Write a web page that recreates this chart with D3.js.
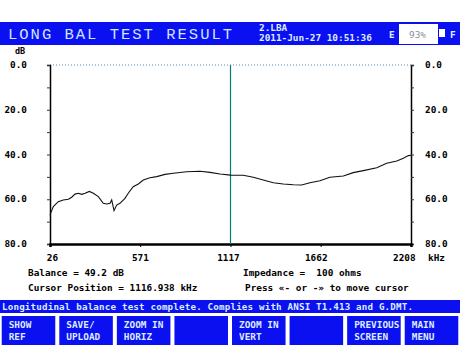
<!DOCTYPE html>
<html>
<head>
<meta charset="utf-8">
<script src="https://cdn.jsdelivr.net/npm/d3@7"></script>
<style>
  body { margin: 0; background: #fff; }
  svg text { font-family: "DejaVu Sans Mono", monospace; white-space: pre; }
</style>
</head>
<body>
<div id="chart"></div>
<script>
// frequency (kHz) and longitudinal balance (dB)
var freqs = [26, 46, 76, 106, 137, 157, 177, 197, 218, 238, 264, 288, 318, 348, 369, 389, 399, 413, 429, 449,
  479, 499, 529, 560, 590, 630, 671, 721, 771, 852, 933, 993, 1054, 1117, 1194, 1255, 1315, 1376, 1436, 1497,
  1547, 1597, 1658, 1718, 1799, 1859, 1920, 2001, 2061, 2122, 2162, 2192, 2208];
var balance = [67.0, 63.3, 61.1, 60.3, 60.0, 59.1, 57.7, 57.3, 57.8, 57.3, 56.5, 57.3, 58.8, 61.8, 62.1, 61.8, 60.3, 65.1, 62.6, 61.8,
  59.6, 57.3, 54.4, 53.2, 51.4, 50.4, 49.9, 48.9, 48.4, 47.7, 47.5, 48.0, 48.7, 49.2, 49.3, 50.2, 51.4, 52.6, 53.2, 53.5,
  53.6, 52.6, 51.7, 50.2, 49.6, 48.1, 47.2, 45.9, 43.9, 42.9, 41.7, 40.5, 40.3];

var xTicks = [26, 571, 1117, 1662, 2208];
var yTicks = [0, 10, 20, 30, 40, 50, 60, 70, 80];
var yLabels = [0, 20, 40, 60, 80];
var cursorFreq = 1117;

var buttons = [["SHOW", "REF"], ["SAVE/", "UPLOAD"], ["ZOOM IN", "HORIZ"], ["", ""],
  ["ZOOM IN", "VERT"], ["", ""], ["PREVIOUS", "SCREEN"], ["MAIN", "MENU"]];

var W = 460, H = 345;
var plot = { left: 50, right: 411, top: 65, bottom: 244 };
var blue = "#0a10f0";
var light = "#dcecff";
var fs = "9.4px";

var svg = d3.select("#chart").append("svg")
    .attr("width", W)
    .attr("height", H);

var x = d3.scaleLinear().domain([26, 2208]).range([plot.left, plot.right]);
var y = d3.scaleLinear().domain([0, 80]).range([plot.top, plot.bottom]);

// header bar
svg.append("rect").attr("x", 0).attr("y", 22).attr("width", W).attr("height", 23).attr("fill", blue);
svg.append("text").attr("x", 8).attr("y", 39)
    .attr("fill", "#cfe6ff")
    .style("font-family", "Liberation Mono")
    .style("font-size", "15.5px")
    .style("letter-spacing", "2px")
    .text("LONG BAL TEST RESULT");
svg.append("text").attr("x", 259).attr("y", 31).attr("fill", light)
    .style("font-size", fs).style("font-weight", "bold")
    .text("2.LBA");
svg.append("text").attr("x", 259).attr("y", 41).attr("fill", light)
    .style("font-size", fs).style("font-weight", "bold")
    .text("2011-Jun-27 10:51:36");
svg.append("text").attr("x", 389).attr("y", 38).attr("fill", light)
    .style("font-size", fs).style("font-weight", "bold").text("E");
svg.append("rect").attr("x", 399).attr("y", 24).attr("width", 39).attr("height", 20).attr("fill", "#fff");
svg.append("rect").attr("x", 439).attr("y", 29).attr("width", 6).attr("height", 8).attr("fill", "#fff");
svg.append("text").attr("x", 409).attr("y", 38).attr("fill", "#8890a0")
    .style("font-size", fs).text("93%");
svg.append("text").attr("x", 450).attr("y", 38).attr("fill", light)
    .style("font-size", fs).style("font-weight", "bold").text("F");

// plot frame
var g = svg.append("g");
g.append("line").attr("x1", plot.left).attr("x2", plot.right).attr("y1", plot.top).attr("y2", plot.top)
    .attr("stroke", "#5a8ab0").attr("stroke-dasharray", "1,2");

var yLeft = g.append("g").attr("transform", "translate(" + plot.left + ",0)")
    .call(d3.axisLeft(y).tickValues(yTicks).tickSize(3).tickFormat(""));
var yRight = g.append("g").attr("transform", "translate(" + plot.right + ",0)")
    .call(d3.axisRight(y).tickValues(yTicks).tickSize(3).tickFormat(""));
[yLeft, yRight].forEach(function (a) {
    a.select(".domain").attr("stroke", "#000").attr("stroke-width", 1.5);
    a.selectAll(".tick line").attr("stroke", "#333");
});

g.selectAll("text.yl").data(yLabels).join("text")
    .attr("class", "yl")
    .attr("x", 27).attr("y", d => y(d) + 3)
    .attr("text-anchor", "end")
    .style("font-size", fs).style("font-weight", "bold")
    .text(d => d.toFixed(1));
g.selectAll("text.yr").data(yLabels).join("text")
    .attr("class", "yr")
    .attr("x", 425).attr("y", d => y(d) + 3)
    .style("font-size", fs).style("font-weight", "bold")
    .text(d => d.toFixed(1));
svg.append("text").attr("x", 15).attr("y", 54)
    .style("font-size", "8.5px").style("font-weight", "bold").text("dB");

var xAxis = g.append("g").attr("transform", "translate(0," + plot.bottom + ")")
    .call(d3.axisBottom(x).tickValues(xTicks).tickSize(3).tickFormat(d => d));
xAxis.select(".domain").attr("stroke", "#000").attr("stroke-width", 2.5);
xAxis.selectAll(".tick line").attr("stroke", "#000");
xAxis.selectAll(".tick text")
    .attr("y", 10)
    .attr("dx", (d, i) => 2 - i * 2.3)
    .style("font-family", "DejaVu Sans Mono")
    .style("font-size", fs).style("font-weight", "bold").attr("fill", "#000");
svg.append("text").attr("x", 428).attr("y", 261)
    .style("font-size", fs).style("font-weight", "bold").text("kHz");

// cursor
g.append("line").attr("x1", x(cursorFreq)).attr("x2", x(cursorFreq))
    .attr("y1", plot.top).attr("y2", plot.bottom)
    .attr("stroke", "#007c7c").attr("stroke-width", 1.2);

// trace
var pts = freqs.map((f, i) => [f, balance[i]]);
g.append("path").datum(pts)
    .attr("fill", "none").attr("stroke", "#111").attr("stroke-width", 1.1)
    .attr("d", d3.line().x(d => x(d[0])).y(d => y(d[1])));

// readouts
var info = [
    { x: 28, y: 276, t: "Balance = 49.2 dB" },
    { x: 243, y: 276, t: "Impedance =  100 ohms" },
    { x: 28, y: 291, t: "Cursor Position = 1116.938 kHz" },
    { x: 245, y: 291, t: "Press \u00ab- or -\u00bb to move cursor" }
];
svg.selectAll("text.info").data(info).join("text")
    .attr("class", "info")
    .attr("x", d => d.x).attr("y", d => d.y)
    .style("font-size", fs).style("font-weight", "bold")
    .text(d => d.t);

// status bar
svg.append("rect").attr("x", 0).attr("y", 300).attr("width", W).attr("height", 13).attr("fill", blue);
svg.append("text").attr("x", 2).attr("y", 309.5).attr("fill", light)
    .attr("textLength", 411).attr("lengthAdjust", "spacing")
    .style("font-size", "9.2px").style("font-weight", "bold")
    .text("Longitudinal balance test complete. Complies with ANSI T1.413 and G.DMT.");

// soft keys
var bx = d3.scaleBand().domain(d3.range(buttons.length)).range([0, W]).paddingInner(0.07).paddingOuter(0.03);
var keys = svg.selectAll("g.key").data(buttons).join("g")
    .attr("class", "key")
    .attr("transform", (d, i) => "translate(" + bx(i) + ",316)");
keys.append("rect").attr("width", bx.bandwidth()).attr("height", 29).attr("fill", blue);
keys.append("text").attr("x", 7).attr("y", 12).attr("fill", light)
    .style("font-size", fs).style("font-weight", "bold").text(d => d[0]);
keys.append("text").attr("x", 7).attr("y", 24).attr("fill", light)
    .style("font-size", fs).style("font-weight", "bold").text(d => d[1]);
</script>
</body>
</html>
